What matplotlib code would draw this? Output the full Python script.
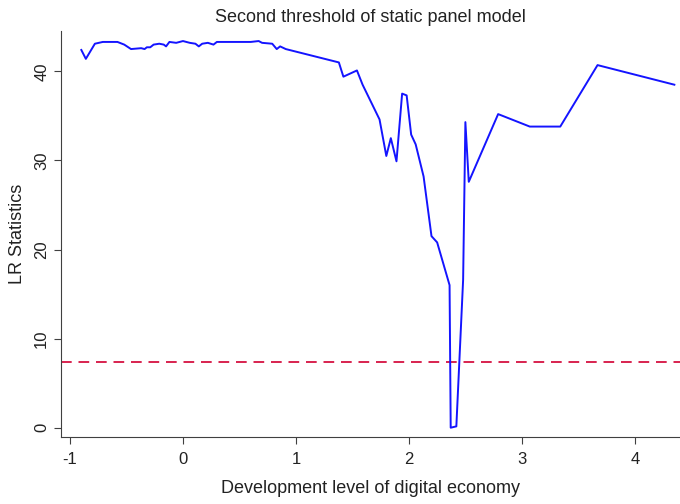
import numpy as np
import matplotlib
matplotlib.use("Agg")
from matplotlib import pyplot as plt

plt.rcParams['font.family'] = ['Liberation Sans', 'DejaVu Sans']
plt.rcParams['axes.unicode_minus'] = False

# threshold values (x) and LR statistics (y)
gamma = [-0.90, -0.86, -0.78, -0.71, -0.58, -0.52, -0.46, -0.37, -0.34, -0.32,
         -0.29, -0.26, -0.21, -0.17, -0.15, -0.12, -0.06, 0.00, 0.06, 0.11,
         0.14, 0.17, 0.22, 0.27, 0.30, 0.60, 0.67, 0.70, 0.79, 0.83,
         0.86, 0.91, 1.38, 1.42, 1.54, 1.59, 1.74, 1.80, 1.84, 1.89,
         1.94, 1.98, 2.02, 2.06, 2.13, 2.20, 2.25, 2.36, 2.37, 2.42,
         2.48, 2.50, 2.53, 2.79, 3.07, 3.34, 3.67, 4.35]
lr = [42.4, 41.4, 43.1, 43.3, 43.3, 43.0, 42.5, 42.6, 42.5, 42.7,
      42.7, 43.0, 43.1, 43.0, 42.8, 43.3, 43.2, 43.4, 43.2, 43.1,
      42.8, 43.1, 43.2, 43.0, 43.3, 43.3, 43.4, 43.2, 43.1, 42.5,
      42.8, 42.5, 41.0, 39.4, 40.1, 38.5, 34.6, 30.5, 32.5, 29.9,
      37.5, 37.3, 32.9, 31.8, 28.2, 21.5, 20.8, 16.0, 0.0, 0.15,
      16.6, 34.3, 27.6, 35.2, 33.8, 33.8, 40.7, 38.5]
crit = 7.35  # critical value

fig = plt.figure(figsize=(6.8, 5.04), dpi=100)
ax = fig.add_axes([0.0897, 0.133, 0.9103, 0.805])

ax.axhline(crit, color='#d8234f', lw=1.4, ls=(0, (5.5, 3.5)))
ax.plot(gamma, lr, color='#1414ff', lw=1.4)

ax.set_xlim(-1.08, 4.4)
ax.set_ylim(-1.04, 44.5)
ax.set_xticks([-1, 0, 1, 2, 3, 4])
ax.set_yticks([0, 10, 20, 30, 40])
for lbl in ax.get_yticklabels():
    lbl.set_rotation(90)
    lbl.set_va('center')

ax.spines['top'].set_visible(False)
ax.spines['right'].set_visible(False)
for s in ['left', 'bottom']:
    ax.spines[s].set_color('#404040')
ax.tick_params(direction='out', length=5, color='#404040', labelsize=12, labelcolor='#222222')
ax.tick_params(axis='x', pad=6)

ax.set_title('Second threshold of static panel model', fontsize=13, pad=7, color='#222222')
ax.set_xlabel('Development level of digital economy', fontsize=13, labelpad=9, color='#222222')
ax.set_ylabel('LR Statistics', fontsize=13, labelpad=6, color='#222222')

fig.savefig('out.png', dpi=100)
